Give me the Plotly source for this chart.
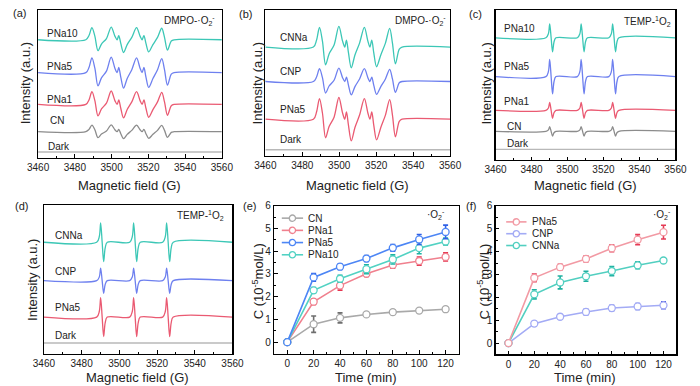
import plotly.graph_objects as go

W, H = 700, 386

# ---------------- data ----------------
# EPR line-shape templates (normalised)
DMPO_FIELD = [3460, 3486.0, 3487.7, 3489.3, 3490.9, 3492.6, 3494.5, 3497.2, 3499.8, 3501.8,
              3503.0, 3503.9, 3505.0, 3506.5, 3508.5, 3511.0, 3513.6, 3515.5, 3516.6, 3517.6,
              3518.7, 3520.2, 3522.5, 3525.0, 3527.3, 3528.8, 3530.4, 3532.5, 3534.0, 3560]
DMPO_SHAPE = [0, 0, 0.35, 1.0, 0.3, -0.9, -0.35, 0.1, 1.05, 0.3,
              0.0, 0.35, -0.3, -1.05, -0.4, 0.2, 1.0, 0.3, 0.0, 0.35,
              -0.3, -1.0, -0.4, 0.2, 0.95, 0.2, -0.85, -0.1, 0, 0]
TEMP_FIELD = [3460, 3488.0, 3489.4, 3490.1, 3490.9, 3491.7, 3492.5, 3493.6,
              3505.5, 3506.9, 3507.6, 3508.4, 3509.2, 3510.0, 3511.1,
              3523.0, 3524.4, 3525.1, 3525.9, 3526.7, 3527.5, 3528.6, 3560]
TEMP_SHAPE = [0, 0, 0.3, 1.0, 0.0, -1.0, -0.3, 0,
              0, 0.3, 1.0, 0.0, -1.0, -0.3, 0,
              0, 0.3, 1.0, 0.0, -1.0, -0.3, 0, 0]

A_SAMPLES = ["PNa10", "PNa5", "PNa1", "CN", "Dark"]
A_INTENSITY = [12.3, 15.0, 13.0, 6.7, 0.0]
B_SAMPLES = ["CNNa", "CNP", "PNa5", "Dark"]
B_INTENSITY = [20.0, 13.0, 21.0, 0.0]
C_SAMPLES = ["PNa10", "PNa5", "PNa1", "CN", "Dark"]
C_INTENSITY = [14.2, 17.5, 8.0, 4.8, 0.0]
D_SAMPLES = ["CNNa", "CNP", "PNa5", "Dark"]
D_INTENSITY = [19.7, 12.8, 19.8, 0.0]

EPR_TICKS = [3460, 3480, 3500, 3520, 3540, 3560]

TIME = [0, 20, 40, 60, 80, 100, 120]
E_CN = [0, 0.79, 1.07, 1.22, 1.32, 1.39, 1.45]
E_CN_ERR = [0, 0.36, 0.22, 0.08, 0.10, 0.08, 0.10]
E_PNA1 = [0, 1.78, 2.49, 3.01, 3.40, 3.57, 3.75]
E_PNA1_ERR = [0, 0.12, 0.20, 0.12, 0.15, 0.18, 0.18]
E_PNA5 = [0, 2.85, 3.32, 3.68, 4.15, 4.52, 4.85]
E_PNA5_ERR = [0, 0.17, 0.12, 0.13, 0.15, 0.22, 0.30]
E_PNA10 = [0, 2.28, 2.79, 3.21, 3.64, 4.14, 4.43]
E_PNA10_ERR = [0, 0.12, 0.15, 0.20, 0.20, 0.25, 0.15]

F_PNA5 = [0, 2.85, 3.32, 3.68, 4.15, 4.52, 4.85]
F_PNA5_ERR = [0, 0.17, 0.12, 0.13, 0.15, 0.22, 0.30]
F_CNP = [0, 0.85, 1.15, 1.36, 1.53, 1.60, 1.65]
F_CNP_ERR = [0, 0.10, 0.10, 0.12, 0.12, 0.13, 0.15]
F_CNNA = [0, 2.13, 2.65, 2.92, 3.15, 3.40, 3.61]
F_CNNA_ERR = [0, 0.20, 0.28, 0.22, 0.20, 0.15, 0.12]

# ---------------- layout / style ----------------
FONT = "Arial, Liberation Sans, sans-serif"
TEAL, BLUE, PINK, GRAY, LGRAY = "#3cc7b6", "#6e80ef", "#ea5a72", "#8c8c8c", "#b8b8b8"

# frames in pixels: (left, right, top, bottom)
FRAMES = {
    "a": (28, 218, 4, 154),
    "b": (263, 454, 4, 152),
    "c": (501, 687, 4, 156.5),
    "d": (34, 229, 202, 353),
    "e": (272, 463, 203, 353),
    "f": (501, 688, 203, 354),
}

def xd(px):
    return px / W

def yd(py):
    return 1 - py / H

EPR_PANELS = [
    # key, samples, intensities, template, colors, baselines(px from bottom), labels(px from bottom), label x
    ("a", A_SAMPLES, A_INTENSITY, "DMPO", [TEAL, BLUE, PINK, GRAY, LGRAY],
     [119.7, 86.3, 54.0, 26.3, 5.7], [126.0, 93.0, 59.0, 37.3, 11.3], [3463.6, 3463.6, 3463.6, 3465.6, 3464.2]),
    ("b", B_SAMPLES, B_INTENSITY, "DMPO", [TEAL, BLUE, PINK, LGRAY],
     [110.3, 75.3, 37.0, 6.0], [120.3, 85.3, 47.0, 16.0], [3466.8] * 4),
    ("c", C_SAMPLES, C_INTENSITY, "TEMP", [TEAL, BLUE, PINK, GRAY, LGRAY],
     [124.2, 84.8, 50.5, 29.2, 10.8], [133.2, 94.8, 59.2, 33.8, 17.2], [3463.6, 3463.6, 3463.6, 3465.0, 3465.0]),
    ("d", D_SAMPLES, D_INTENSITY, "TEMP", [TEAL, BLUE, PINK, LGRAY],
     [113.0, 74.0, 37.0, 10.7], [120.3, 83.0, 46.3, 18.7], [3464.8] * 4),
]

fig = go.Figure()
layout = dict(width=W, height=H, margin=dict(l=0, r=0, t=0, b=0),
              paper_bgcolor="white", plot_bgcolor="white", showlegend=False,
              font=dict(family=FONT, size=10, color="black"))
annotations = []
shapes = []

axis_common = dict(showline=True, linecolor="black", linewidth=1.3, mirror=True,
                   showgrid=False, zeroline=False)

keys = ["a", "b", "c", "d", "e", "f"]
for i, k in enumerate(keys):
    n = "" if i == 0 else str(i + 1)
    l, r, t, b = FRAMES[k]
    xa = dict(axis_common, domain=[xd(l), xd(r)], anchor="y" + n,
              ticks="inside", ticklen=3.5, tickwidth=1, tickcolor="black",
              tickfont=dict(size=10, family=FONT, color="#222"))
    ya = dict(axis_common, domain=[yd(b), yd(t)], anchor="x" + n)
    if k in "abcd":
        xa.update(range=[3460, 3560], tickmode="array", tickvals=EPR_TICKS,
                  minor=dict(ticks="inside", ticklen=2, tickvals=[3470, 3490, 3510, 3530, 3550],
                             tickcolor="black"))
        ya.update(range=[0, b - t], showticklabels=False, ticks="")
    else:
        xa.update(range=[-10, 130], tickmode="array", tickvals=TIME,
                  minor=dict(ticks="inside", ticklen=2, tickvals=[10, 30, 50, 70, 90, 110],
                             tickcolor="black"))
        ya.update(range=[-0.5, 6], tickmode="array", tickvals=[0, 1, 2, 3, 4, 5, 6],
                  ticks="inside", ticklen=3.5, tickcolor="black",
                  tickfont=dict(size=10, family=FONT, color="#222"),
                  minor=dict(ticks="inside", ticklen=2, tickvals=[0.5, 1.5, 2.5, 3.5, 4.5, 5.5],
                             tickcolor="black"))
    layout["xaxis" + n] = xa
    layout["yaxis" + n] = ya

# ---- EPR spectra ----
for key, samples, amps, tmpl, colors, bases, labys, labxs in EPR_PANELS:
    i = keys.index(key)
    n = "" if i == 0 else str(i + 1)
    fx = DMPO_FIELD if tmpl == "DMPO" else TEMP_FIELD
    fs = DMPO_SHAPE if tmpl == "DMPO" else TEMP_SHAPE
    for s, a, c, base, ly, lx in zip(samples, amps, colors, bases, labys, labxs):
        fig.add_trace(go.Scatter(x=fx, y=[base + a * v for v in fs], mode="lines",
                                 line=dict(color=c, width=1.3, shape="spline", smoothing=0.9),
                                 xaxis="x" + n, yaxis="y" + n, hoverinfo="skip"))
        annotations.append(dict(x=lx, y=ly, xref="x" + n, yref="y" + n, text=s, showarrow=False,
                                xanchor="left", yanchor="middle",
                                font=dict(size=10, family=FONT, color="#222")))

# ---- kinetic curves ----
def kin(x, y, err, line_c, err_c, n):
    fig.add_trace(go.Scatter(
        x=x, y=y, mode="lines+markers", xaxis="x" + n, yaxis="y" + n,
        line=dict(color=line_c, width=1.6),
        marker=dict(symbol="circle", size=7, color="white", line=dict(color=line_c, width=1.3)),
        error_y=dict(type="data", array=err, visible=True, color=err_c, thickness=1.6, width=2.5),
        hoverinfo="skip"))

kin(TIME, E_CN, E_CN_ERR, "#a9a9a9", "#6e6e6e", "5")
kin(TIME, E_PNA1, E_PNA1_ERR, "#f0808e", "#e5354f", "5")
kin(TIME, E_PNA10, E_PNA10_ERR, "#52d2c3", "#1fb3a3", "5")
kin(TIME, E_PNA5, E_PNA5_ERR, "#4d86f5", "#2f60e6", "5")

kin(TIME, F_CNP, F_CNP_ERR, "#a3abf5", "#4a5be0", "6")
kin(TIME, F_CNNA, F_CNNA_ERR, "#52cfc0", "#1fb0a0", "6")
kin(TIME, F_PNA5, F_PNA5_ERR, "#f29aa4", "#e53a55", "6")

# ---- custom legends ----
E_LEG = [("CN", "#a9a9a9"), ("PNa1", "#f0808e"), ("PNa5", "#4d86f5"), ("PNa10", "#52d2c3")]
F_LEG = [("PNa5", "#f29aa4"), ("CNP", "#a3abf5"), ("CNNa", "#52cfc0")]

def legend(items, x0, x1, tx, y0, dy):
    for j, (name, c) in enumerate(items):
        yy = y0 + j * dy
        xc = (x0 + x1) / 2
        shapes.append(dict(type="line", xref="paper", yref="paper", x0=xd(x0), x1=xd(x1),
                           y0=yd(yy), y1=yd(yy), line=dict(color=c, width=1.6)))
        shapes.append(dict(type="circle", xref="paper", yref="paper",
                           x0=xd(xc - 3.2), x1=xd(xc + 3.2), y0=yd(yy + 3.2), y1=yd(yy - 3.2),
                           line=dict(color=c, width=1.3), fillcolor="white"))
        annotations.append(dict(x=xd(tx), y=yd(yy), xref="paper", yref="paper", text=name,
                                showarrow=False, xanchor="left", yanchor="middle",
                                font=dict(size=10, family=FONT, color="#222")))

legend(E_LEG, 280, 302, 305, 215.5, 12.4)
legend(F_LEG, 512, 533, 537, 219.3, 12.0)

# ---- text annotations ----
def txt(x, y, s, size=10, xanchor="center", angle=0):
    annotations.append(dict(x=xd(x), y=yd(y), xref="paper", yref="paper", text=s, showarrow=False,
                            xanchor=xanchor, yanchor="middle", textangle=angle,
                            font=dict(size=size, family=FONT, color="#222")))

for lab, x, y in [("(a)", 0, 7), ("(b)", 234, 8), ("(c)", 471, 8),
                  ("(d)", 2, 203), ("(e)", 238, 203), ("(f)", 468, 203)]:
    txt(x, y, lab, size=11, xanchor="left")

DMPO_T = "DMPO-·O<sub>2</sub><sup>-</sup>"
TEMP_T = "TEMP-<sup>1</sup>O<sub>2</sub>"
SUPO = "·O<sub>2</sub><sup>-</sup>"
txt(213, 15, DMPO_T, size=10, xanchor="right")
txt(452, 15, DMPO_T, size=10, xanchor="right")
txt(685, 16, TEMP_T, size=10, xanchor="right")
txt(222, 213, TEMP_T, size=10, xanchor="right")
txt(451, 212, SUPO, size=10, xanchor="right")
txt(684, 212, SUPO, size=10, xanchor="right")

for x in (15, 255, 492):
    txt(x, 79, "Intensity (a.u.)", size=13, angle=-90)
txt(22, 278, "Intensity (a.u.)", size=13, angle=-90)
txt(255, 280, "C (10<sup>-5</sup>mol/L)", size=13, angle=-90)
txt(488, 280, "C (10<sup>-5</sup>mol/L)", size=13, angle=-90)

for x in (123, 358, 594):
    txt(x, 182, "Magnetic field (G)", size=13)
txt(131, 377, "Magnetic field (G)", size=13)
txt(367, 377, "Time (min)", size=13)
txt(594, 377, "Time (min)", size=13)

layout["annotations"] = annotations
layout["shapes"] = shapes
fig.update_layout(**layout)
fig.write_html("out.html", config={"displayModeBar": False, "staticPlot": True},
               post_script="document.body.style.margin='0';document.body.style.overflow='hidden';")
